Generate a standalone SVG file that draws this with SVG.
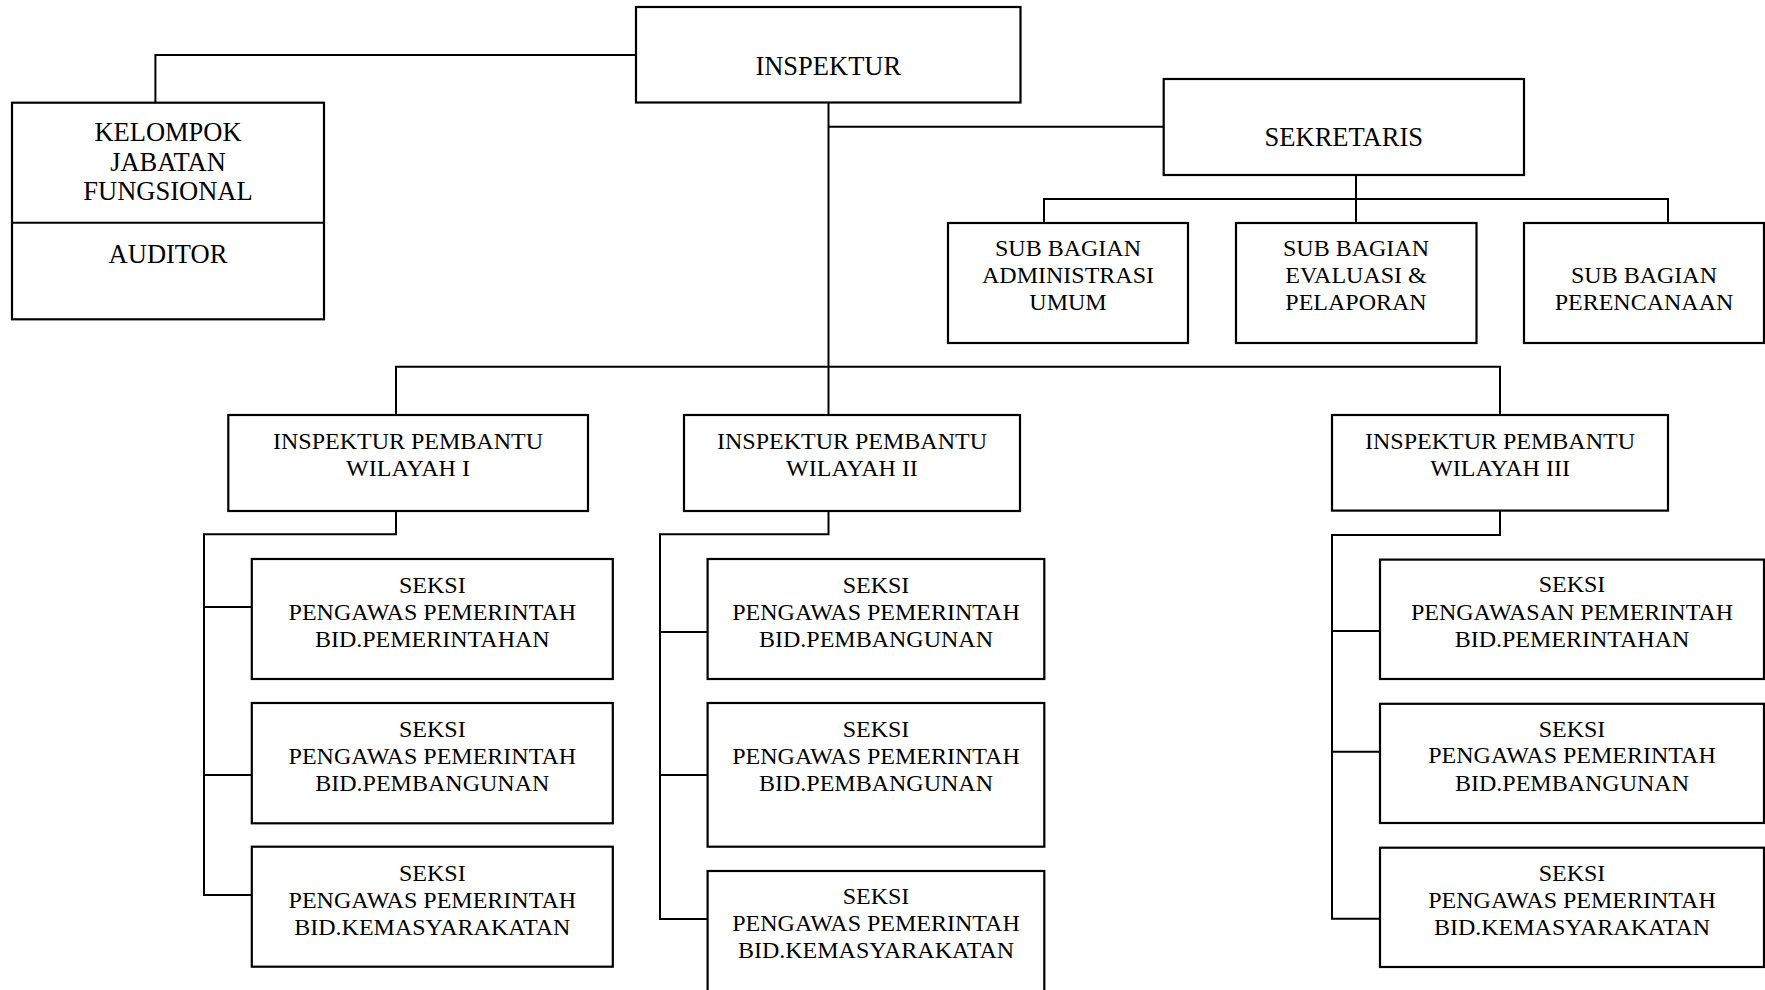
<svg xmlns="http://www.w3.org/2000/svg" width="1765" height="990" viewBox="0 0 1765 990">
<style>
.box{fill:#fff;stroke:#000;stroke-width:2.2}
.ln{fill:none;stroke:#000;stroke-width:2}
text{font-family:"Liberation Serif","Times New Roman",serif;font-size:24px;fill:#000;text-anchor:middle}
.lg{font-size:26.5px}
</style>
<rect width="1765" height="990" fill="#fff"/>
<g id="connectors" class="ln">
<path d="M636,55 H155.4 V102.7"/>
<path d="M828.5,102.7 V415"/>
<path d="M828.5,126.7 H1163.7"/>
<path d="M1356,175 V223 M1044,223 V199 H1668 V223"/>
<path d="M396,415 V366.7 H1500 V415"/>
<path d="M396,511 V534.3 H204 V895 H251.8 M204,607 H251.8 M204,775 H251.8"/>
<path d="M828.5,511 V534.3 H660 V919 H707.6 M660,632 H707.6 M660,775 H707.6"/>
<path d="M1500,510.6 V535 H1332 V918.8 H1380 M1332,631 H1380 M1332,751.7 H1380"/>
</g>
<g id="inspektur"><rect class="box" x="636" y="7" width="384.5" height="95.5"/><text class="lg" x="828.3" y="75">INSPEKTUR</text></g>
<g id="kelompok"><rect class="box" x="12" y="102.7" width="312" height="216.6"/><line class="ln" x1="12" y1="222.7" x2="324" y2="222.7"/>
<text class="lg" x="168" y="140.5">KELOMPOK</text><text class="lg" x="168" y="170.5">JABATAN</text><text class="lg" x="168" y="199.5">FUNGSIONAL</text><text class="lg" x="168" y="263">AUDITOR</text></g>
<g id="sekretaris"><rect class="box" x="1163.7" y="79" width="360.3" height="96"/><text class="lg" x="1343.8" y="146">SEKRETARIS</text></g>
<g id="sub-adm"><rect class="box" x="948" y="223" width="240" height="120"/><text x="1068" y="256.3">SUB BAGIAN</text><text x="1068" y="283">ADMINISTRASI</text><text x="1068" y="310.3">UMUM</text></g>
<g id="sub-eval"><rect class="box" x="1236" y="223" width="240.5" height="120"/><text x="1356" y="256.3">SUB BAGIAN</text><text x="1356" y="283">EVALUASI &amp;</text><text x="1356" y="310.3">PELAPORAN</text></g>
<g id="sub-ren"><rect class="box" x="1524" y="223" width="240" height="120"/><text x="1644" y="283">SUB BAGIAN</text><text x="1644" y="310.3">PERENCANAAN</text></g>
<g id="wil1"><rect class="box" x="228.3" y="415" width="359.7" height="96"/><text x="408" y="448.7">INSPEKTUR PEMBANTU</text><text x="408" y="475.7">WILAYAH I</text></g>
<g id="wil2"><rect class="box" x="684" y="415" width="336" height="96"/><text x="852" y="448.7">INSPEKTUR PEMBANTU</text><text x="852" y="475.7">WILAYAH II</text></g>
<g id="wil3"><rect class="box" x="1332" y="415" width="336" height="95.6"/><text x="1500" y="448.7">INSPEKTUR PEMBANTU</text><text x="1500" y="475.7">WILAYAH III</text></g>
<g id="w1-s1"><rect class="box" x="251.8" y="559" width="361" height="120"/><text x="432.3" y="593">SEKSI</text><text x="432.3" y="619.5">PENGAWAS PEMERINTAH</text><text x="432.3" y="646.5">BID.PEMERINTAHAN</text></g>
<g id="w1-s2"><rect class="box" x="251.8" y="703" width="361" height="120.3"/><text x="432.3" y="736.5">SEKSI</text><text x="432.3" y="763.5">PENGAWAS PEMERINTAH</text><text x="432.3" y="791">BID.PEMBANGUNAN</text></g>
<g id="w1-s3"><rect class="box" x="251.8" y="846.7" width="361" height="120"/><text x="432.3" y="880.5">SEKSI</text><text x="432.3" y="907.5">PENGAWAS PEMERINTAH</text><text x="432.3" y="934.5">BID.KEMASYARAKATAN</text></g>
<g id="w2-s1"><rect class="box" x="707.6" y="559" width="336.7" height="120"/><text x="876" y="593">SEKSI</text><text x="876" y="619.5">PENGAWAS PEMERINTAH</text><text x="876" y="646.5">BID.PEMBANGUNAN</text></g>
<g id="w2-s2"><rect class="box" x="707.6" y="703" width="336.7" height="143.7"/><text x="876" y="736.5">SEKSI</text><text x="876" y="763.5">PENGAWAS PEMERINTAH</text><text x="876" y="791">BID.PEMBANGUNAN</text></g>
<g id="w2-s3"><rect class="box" x="707.6" y="871" width="336.7" height="130"/><text x="876" y="904">SEKSI</text><text x="876" y="931">PENGAWAS PEMERINTAH</text><text x="876" y="958">BID.KEMASYARAKATAN</text></g>
<g id="w3-s1"><rect class="box" x="1380" y="559.6" width="384" height="119.4"/><text x="1572" y="592">SEKSI</text><text x="1572" y="619.5">PENGAWASAN PEMERINTAH</text><text x="1572" y="647">BID.PEMERINTAHAN</text></g>
<g id="w3-s2"><rect class="box" x="1380" y="703.8" width="384" height="119.2"/><text x="1572" y="736.5">SEKSI</text><text x="1572" y="763">PENGAWAS PEMERINTAH</text><text x="1572" y="790.5">BID.PEMBANGUNAN</text></g>
<g id="w3-s3"><rect class="box" x="1380" y="847.7" width="384" height="119.3"/><text x="1572" y="880.5">SEKSI</text><text x="1572" y="907.5">PENGAWAS PEMERINTAH</text><text x="1572" y="934.5">BID.KEMASYARAKATAN</text></g>
</svg>
